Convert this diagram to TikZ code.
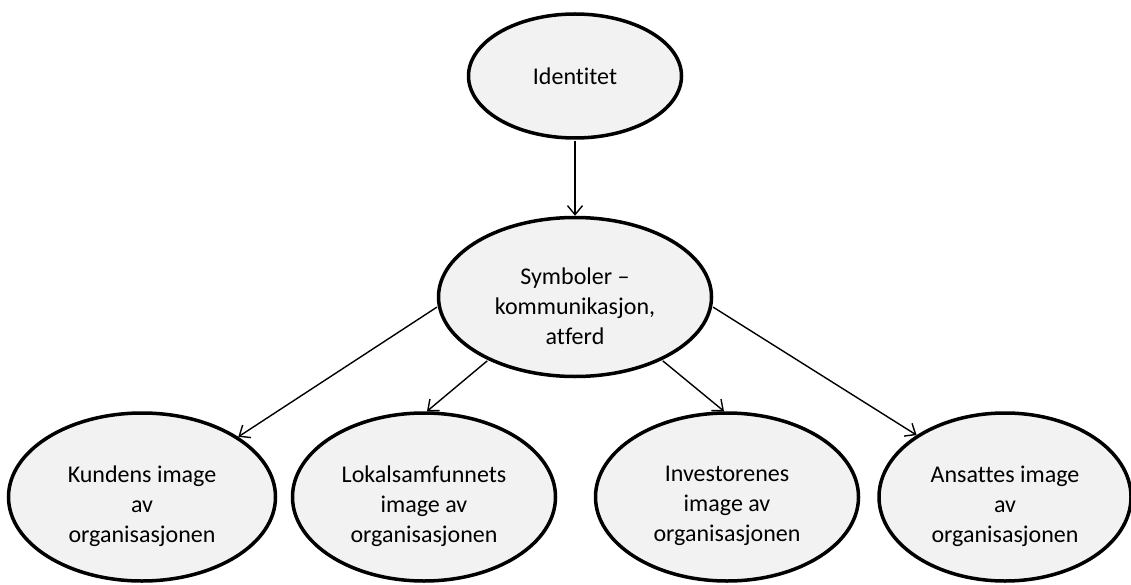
\documentclass[tikz,border=0pt]{standalone}
\usepackage{fontspec}
\setmainfont{Carlito}[Ligatures={NoCommon,NoRare}]
\usetikzlibrary{shapes.geometric,arrows.meta}
\definecolor{ellfill}{HTML}{F2F2F2}
\tikzset{
  ell/.style={ellipse, draw=black, line width=3.5pt, fill=ellfill, inner sep=0pt},
  lbl/.style={align=center, font=\fontsize{24pt}{30pt}\selectfont, text=black, inner sep=0pt},
  conn/.style={line width=1.4pt, -{Straight Barb[length=9pt,width=15pt,line width=1.4pt]}, shorten <=1pt}
}
\begin{document}
\begin{tikzpicture}[x=1pt,y=-1pt]
\useasboundingbox (0,0) rectangle (1131,585);
\fill[white] (0,0) rectangle (1131,585);
\node[ell, minimum width=213pt, minimum height=124pt] (id) at (575,76) {};
\node[ell, minimum width=273pt, minimum height=159pt] (sym) at (575,297) {};
\node[ell, minimum width=267pt, minimum height=168pt] (kund) at (142,497) {};
\node[ell, minimum width=263pt, minimum height=168pt] (lok) at (424,497) {};
\node[ell, minimum width=263pt, minimum height=168pt] (inv) at (727,497) {};
\node[ell, minimum width=252pt, minimum height=168pt] (ans) at (1005,497) {};

\node[lbl] (tid) at (id.center) {Identitet};
\node[lbl] (tsym) at ([yshift=-9pt]sym.center) {Symboler –\\kommunikasjon,\\atferd};
\node[lbl] (tkund) at ([yshift=-9pt]kund.center) {Kundens image\\av\\organisasjonen};
\node[lbl] (tlok) at ([yshift=-9pt]lok.center) {Lokalsamfunnets\\image av\\organisasjonen};
\node[lbl] (tinv) at ([yshift=-9pt]inv.center) {Investorenes\\image av\\organisasjonen};
\node[lbl] (tans) at ([yshift=-9pt]ans.center) {Ansattes image\\av\\organisasjonen};

\draw[conn] (id.south) -- (sym.north);
\draw[conn] (sym.184) -- (kund.32);
\draw[conn] (sym.216) -- (lok.88);
\draw[conn] (sym.324) -- (inv.92);
\draw[conn] (sym.356) -- (ans.145);
\end{tikzpicture}
\end{document}
